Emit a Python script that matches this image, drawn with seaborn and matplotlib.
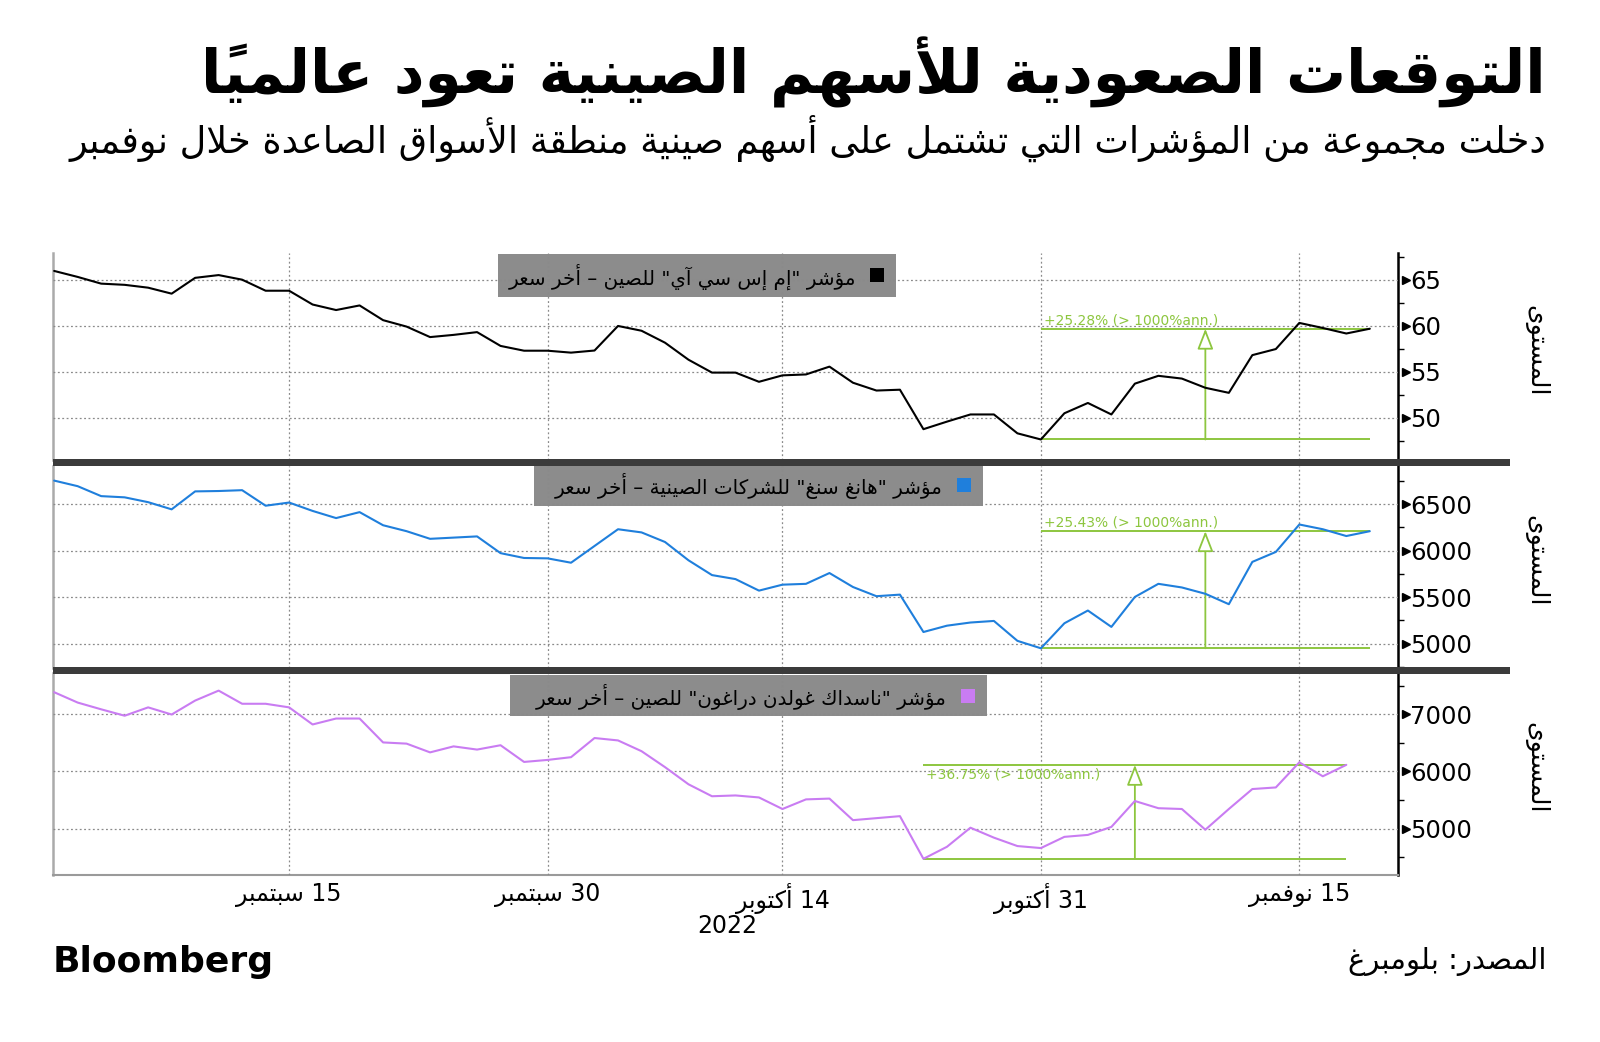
import numpy as np
import pandas as pd
import matplotlib
matplotlib.use('Agg')
import matplotlib.pyplot as plt
import matplotlib.transforms as mtransforms
from matplotlib.patches import Rectangle
from matplotlib.ticker import FixedLocator, MultipleLocator
import seaborn as sns

# ---- data (trading days, 1 Sep - 18 Nov 2022) ----
dates = pd.bdate_range('2022-09-01', '2022-11-18')

msci_china = [65.95, 65.3, 64.57, 64.44, 64.13, 63.48, 65.2, 65.5, 65.0, 63.8,
              63.8, 62.3, 61.7, 62.2, 60.6, 59.9, 58.76, 59.0, 59.3, 57.8,
              57.28, 57.28, 57.07, 57.3, 59.97, 59.45, 58.15, 56.3, 54.9, 54.9,
              53.9, 54.6, 54.7, 55.55, 53.8, 52.95, 53.04, 48.75, 49.57, 50.35,
              50.35, 48.3, 47.63, 50.48, 51.6, 50.35, 53.7, 54.55, 54.25, 53.25,
              52.7, 56.8, 57.46, 60.3, 59.75, 59.15, 59.67]
hscei = [6753, 6693, 6586, 6573, 6521, 6444, 6637, 6641, 6650, 6483,
         6517, 6427, 6350, 6414, 6273, 6209, 6127, 6140, 6153, 5973,
         5921, 5917, 5870, 6050, 6230, 6196, 6093, 5896, 5737, 5694,
         5570, 5634, 5643, 5759, 5609, 5510, 5527, 5125, 5193, 5227,
         5244, 5030, 4950, 5219, 5356, 5180, 5502, 5643, 5604, 5536,
         5424, 5879, 5986, 6281, 6230, 6157, 6209]
golden_dragon = [7383, 7202, 7084, 6972, 7118, 6993, 7237, 7411, 7181, 7181,
                 7118, 6819, 6923, 6923, 6505, 6484, 6331, 6436, 6380, 6456,
                 6164, 6199, 6247, 6582, 6540, 6352, 6073, 5773, 5564, 5578,
                 5543, 5341, 5509, 5523, 5146, 5181, 5216, 4470, 4680, 5014,
                 4840, 4693, 4658, 4854, 4888, 5028, 5481, 5355, 5341, 4979,
                 5341, 5690, 5718, 6157, 5913, 6113]

labels = ['مؤشر "إم إس سي آي" للصين – أخر سعر',
          'مؤشر "هانغ سنغ" للشركات الصينية – أخر سعر',
          'مؤشر "ناسداك غولدن دراغون" للصين – أخر سعر']
major_dates = ['2022-09-15', '2022-09-30', '2022-10-14', '2022-10-31', '2022-11-15']
minor_dates = ['2022-09-07', '2022-09-22', '2022-10-07', '2022-10-24', '2022-11-08']
xtick_labels = ['15 سبتمبر', '30 سبتمبر', '14 أكتوبر', '31 أكتوبر', '15 نوفمبر']
gain_start = ['2022-10-31', '2022-10-31', '2022-10-24']
gain_text = ['+25.28% (> 1000%ann.)', '+25.43% (> 1000%ann.)', '+36.75% (> 1000%ann.)']

title = 'التوقعات الصعودية للأسهم الصينية تعود عالمياً'
subtitle = 'دخلت مجموعة من المؤشرات التي تشتمل على أسهم صينية منطقة الأسواق الصاعدة خلال نوفمبر'
ylabel = 'المستوى'
source = 'المصدر: بلومبرغ'


# ---- minimal arabic shaping (matplotlib has no RTL/shaping) ----
FORMS = {
    'ء': (0xFE80, 1), 'آ': (0xFE81, 2), 'أ': (0xFE83, 2), 'ؤ': (0xFE85, 2), 'إ': (0xFE87, 2),
    'ئ': (0xFE89, 4), 'ا': (0xFE8D, 2), 'ب': (0xFE8F, 4), 'ة': (0xFE93, 2), 'ت': (0xFE95, 4),
    'ث': (0xFE99, 4), 'ج': (0xFE9D, 4), 'ح': (0xFEA1, 4), 'خ': (0xFEA5, 4), 'د': (0xFEA9, 2),
    'ذ': (0xFEAB, 2), 'ر': (0xFEAD, 2), 'ز': (0xFEAF, 2), 'س': (0xFEB1, 4), 'ش': (0xFEB5, 4),
    'ص': (0xFEB9, 4), 'ض': (0xFEBD, 4), 'ط': (0xFEC1, 4), 'ظ': (0xFEC5, 4), 'ع': (0xFEC9, 4),
    'غ': (0xFECD, 4), 'ف': (0xFED1, 4), 'ق': (0xFED5, 4), 'ك': (0xFED9, 4), 'ل': (0xFEDD, 4),
    'م': (0xFEE1, 4), 'ن': (0xFEE5, 4), 'ه': (0xFEE9, 4), 'و': (0xFEED, 2), 'ى': (0xFEEF, 2),
    'ي': (0xFEF1, 4),
}
LAM_ALEF = {'آ': 0xFEF5, 'أ': 0xFEF7, 'إ': 0xFEF9, 'ا': 0xFEFB}
MARKS = set(chr(c) for c in range(0x064B, 0x0660)) | {'\u0670'}


def shape(text):
    toks = []
    i = 0
    while i < len(text):
        if text[i] == 'ل' and i + 1 < len(text) and text[i + 1] in LAM_ALEF:
            toks.append(('LA', text[i + 1]))
            i += 2
        else:
            toks.append(('C', text[i]))
            i += 1

    def joins_prev(t):
        return t[0] == 'LA' or (t[1] in FORMS and FORMS[t[1]][1] >= 2)

    def joins_next(t):
        return t[0] == 'C' and t[1] in FORMS and FORMS[t[1]][1] == 4

    out = []
    for k, t in enumerate(toks):
        if t[0] == 'C' and t[1] not in FORMS:
            out.append(t[1])
            continue
        p = k - 1
        while p >= 0 and toks[p][1] in MARKS and toks[p][0] == 'C':
            p -= 1
        q = k + 1
        while q < len(toks) and toks[q][1] in MARKS and toks[q][0] == 'C':
            q += 1
        cp = p >= 0 and joins_next(toks[p]) and joins_prev(t)
        cn = q < len(toks) and joins_next(t) and joins_prev(toks[q])
        if t[0] == 'LA':
            out.append(chr(LAM_ALEF[t[1]] + (1 if cp else 0)))
            continue
        base, n = FORMS[t[1]]
        if n == 1:
            off = 0
        elif n == 2:
            off = 1 if cp else 0
        else:
            off = 3 if (cp and cn) else 1 if cp else 2 if cn else 0
        out.append(chr(base + off))
    return ''.join(out)


def ar(text):
    s = shape(text)
    clusters = []
    for ch in s:
        if ch in MARKS and clusters:
            clusters[-1] += ch
        else:
            clusters.append(ch)
    runs = []
    for c in clusters:
        ltr = c.isascii() and c.isalnum()
        if runs and runs[-1][0] == ltr:
            runs[-1][1].append(c)
        else:
            runs.append([ltr, [c]])
    return ''.join(''.join(r) if l else ''.join(reversed(r)) for l, r in reversed(runs))


# ---- styling ----
sns.set_style('white')
plt.rcParams['font.family'] = ['DejaVu Sans']
plt.rcParams['text.color'] = 'black'
plt.rcParams['xtick.color'] = 'black'
plt.rcParams['ytick.color'] = 'black'

W, H = 1600, 1042
fig = plt.figure(figsize=(W / 100, H / 100), dpi=100)


def fx(x):
    return x / W


def fy(y):
    return 1 - y / H


GREEN = '#8dc63f'
GRID = '#8a8a8a'

pos = np.arange(len(dates))
date_idx = {d.strftime('%Y-%m-%d'): i for i, d in enumerate(dates)}

series = [msci_china, hscei, golden_dragon]
colors = ['black', '#1f7fdc', '#c97cf2']
panel_px = [(253, 460), (466, 668), (673, 875)]
ylims = [(45.4, 67.9), (4738, 6910), (4187, 7719)]
yticks = [[50, 55, 60, 65], [5000, 5500, 6000, 6500], [5000, 6000, 7000]]
yminor = [2.5, 250, 500]
legend_px = [(498, 896, 254, 297), (534, 983, 464, 506), (510, 987, 675, 716)]
text_above = [True, True, False]

L, R = 53, 1398
axes = []
for k in range(3):
    top, bot = panel_px[k]
    ax = fig.add_axes([fx(L), fy(bot), (R - L) / W, (bot - top) / H])
    axes.append(ax)
    vals = series[k]
    sns.lineplot(x=pos[:len(vals)], y=vals, ax=ax, color=colors[k], linewidth=1.5, zorder=4)

    ax.set_xlim(-0.05, 57.2)
    ax.set_ylim(*ylims[k])
    ax.set_axisbelow(False)

    ax.yaxis.tick_right()
    ax.yaxis.set_major_locator(FixedLocator(yticks[k]))
    ax.yaxis.set_minor_locator(MultipleLocator(yminor[k]))
    ax.tick_params(axis='y', which='major', length=0, labelsize=17.5, pad=9)
    ax.tick_params(axis='y', which='minor', length=4, width=1, color='black', direction='out')
    # triangular major tick marks
    tr = mtransforms.blended_transform_factory(ax.transAxes, ax.transData)
    ax.plot([1.006] * len(yticks[k]), yticks[k], ls='none', marker='>', ms=6,
            color='black', transform=tr, clip_on=False, zorder=6)

    ax.xaxis.set_major_locator(FixedLocator([date_idx[d] for d in major_dates]))
    ax.xaxis.set_minor_locator(FixedLocator([date_idx[d] for d in minor_dates]))
    if k < 2:
        ax.tick_params(axis='x', which='both', length=0, labelbottom=False)
    else:
        ax.set_xticklabels([ar(t) for t in xtick_labels])
        ax.tick_params(axis='x', which='both', length=9, width=1, color='#9a9a9a',
                       direction='out', labelsize=17, pad=-3)

    ax.grid(True, which='major', linestyle=(0, (1.5, 2)), color=GRID, linewidth=0.9)
    ax.set_xlabel('')
    ax.set_ylabel('')

    for s in ['top', 'bottom']:
        ax.spines[s].set_visible(False)
    if k == 2:
        ax.spines['bottom'].set_visible(True)
        ax.spines['bottom'].set_color('#9a9a9a')
        ax.spines['bottom'].set_linewidth(1.5)
    ax.spines['left'].set_color('#aaaaaa')
    ax.spines['left'].set_linewidth(1.8)
    ax.spines['right'].set_color('black')
    ax.spines['right'].set_linewidth(1.8)

    # legend box
    x0, x1, y0, y1 = legend_px[k]
    ax.add_patch(Rectangle((fx(x0), fy(y1)), (x1 - x0) / W, (y1 - y0) / H,
                           transform=fig.transFigure, facecolor='#8c8c8c',
                           edgecolor='none', zorder=1))
    ax.add_patch(Rectangle((fx(x1 - 26), fy((y0 + y1) / 2 + 7)), 14 / W, 14 / H,
                           transform=fig.transFigure, facecolor=colors[k],
                           edgecolor='none', zorder=5, clip_on=False))
    fig.text(fx(x1 - 40), fy((y0 + y1) / 2 + 1), ar(labels[k]), ha='right', va='center',
             fontsize=14.3, color='black', zorder=6)

    # gain annotation
    i0 = date_idx[gain_start[k]]
    i1 = len(vals) - 1
    lo, hi = vals[i0], vals[i1]
    mid = (i0 + i1) // 2
    ax.hlines([lo, hi], i0, i1, color=GREEN, linewidth=1.4, zorder=3)
    ax.annotate('', xy=(mid, hi), xytext=(mid, lo),
                arrowprops=dict(arrowstyle='-|>,head_length=0.9,head_width=0.35',
                                ec=GREEN, fc='white', lw=1.3, shrinkA=0, shrinkB=0,
                                mutation_scale=14), zorder=3)
    if text_above[k]:
        ax.annotate(gain_text[k], xy=(i0, hi), xytext=(2, 1), textcoords='offset points',
                    ha='left', va='bottom', color=GREEN, fontsize=10)
    else:
        ax.annotate(gain_text[k], xy=(i0, hi), xytext=(2, -2), textcoords='offset points',
                    ha='left', va='top', color=GREEN, fontsize=10)

    # y label on the far right
    fig.text(fx(1536), fy((top + bot) / 2 - 6), ar(ylabel), rotation=270,
             ha='center', va='center', fontsize=18)

# separators between panels
for yb in [459, 667]:
    fig.add_artist(Rectangle((fx(L), fy(yb + 7)), (1510 - L) / W, 7 / H,
                             transform=fig.transFigure, facecolor='#3b3b3b',
                             edgecolor='none', zorder=10))

# year under the x axis
fig.text(fx(727), fy(926), '2022', ha='center', va='center', fontsize=17)

# titles
fig.text(fx(1546), fy(72), ar(title), ha='right', va='center', fontsize=43,
         fontweight='bold')
fig.text(fx(1546), fy(138), ar(subtitle), ha='right', va='center', fontsize=26.4)

# footer
fig.text(fx(53), fy(962), 'Bloomberg', ha='left', va='center', fontsize=26,
         fontweight='heavy')
fig.text(fx(1546), fy(962), ar(source), ha='right', va='center', fontsize=21)

fig.savefig('out.png', dpi=100)
